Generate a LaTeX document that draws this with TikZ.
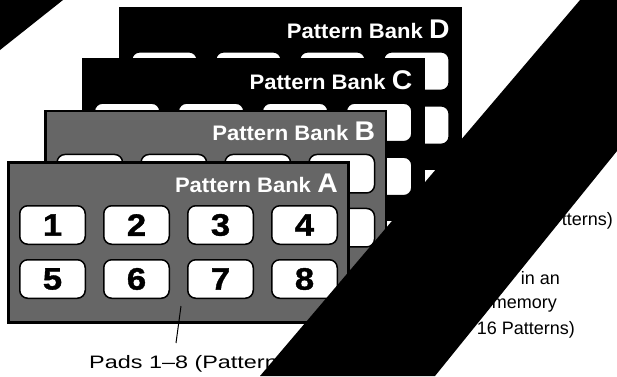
\documentclass[tikz,border=0pt]{standalone}
\usepackage{fontspec}
\setmainfont{Liberation Sans}
\newfontfamily\padfont[FakeStretch=1.12,FakeBold=1.2]{Liberation Sans}
\newfontfamily\titlefont[FakeStretch=1.05]{Liberation Sans}
\newfontfamily\labfont[FakeStretch=1.3]{Liberation Sans}
\newfontfamily\notefont{Liberation Sans}
\definecolor{cardgrey}{RGB}{102,102,102}
\begin{document}
\begin{tikzpicture}[x=1pt,y=-1pt,
  pad/.style={draw=black, fill=white, line width=1.5pt, rounded corners=8pt,
    minimum width=65.5pt, minimum height=38.5pt, inner sep=0pt,
    font=\padfont\bfseries\fontsize{31}{31}\selectfont},
  card/.style={draw=black, line width=2.7pt},
  banktitle/.style={anchor=base east, inner sep=0pt, text=white,
    font=\titlefont\bfseries\fontsize{21}{21}\selectfont},
  lab/.style={inner sep=0pt, font=\labfont\fontsize{18}{18}\selectfont},
  note/.style={inner sep=0pt, anchor=base east, font=\notefont\fontsize{18}{18}\selectfont}]
\useasboundingbox (0,0) rectangle (617,376);
\foreach \k/\L/\col in {3/D/black,2/C/black,1/B/cardgrey} {
  \pgfmathsetmacro\ox{7+37.3*\k}
  \pgfmathsetmacro\oy{161-51.3*\k}
  \draw[card, fill=\col] (\ox+1.35,\oy+1.35) rectangle (\ox+341.65,\oy+161.65);
  \foreach \i in {0,...,3} {
    \node[pad] (p\L\i) at (\ox+45.5+84*\i, \oy+64) {};
    \node[pad] (q\L\i) at (\ox+45.5+84*\i, \oy+118) {};
  }
  \node[banktitle] (t\L) at (\ox+331,\oy+31) {Pattern Bank\hspace{0.3em}{\fontsize{27}{27}\selectfont \L}};
}
% Card A
\draw[card, fill=cardgrey] (8.35,162.35) rectangle (348.65,322.65);
\foreach \i in {0,...,3} {
  \pgfmathtruncatemacro\na{\i+1}
  \pgfmathtruncatemacro\nb{\i+5}
  \node[pad] (pA\i) at (52.5+84*\i, 225) {\na};
  \node[pad] (qA\i) at (52.5+84*\i, 279) {\nb};
}
\node[banktitle] (tA) at (338,192) {Pattern Bank\hspace{0.3em}{\fontsize{27}{27}\selectfont A}};
% labels
\node[note] (r1) at (613,225) {tterns)};
\node[note] (r2) at (560,284) {in an};
\node[note] (r3) at (557,308) {memory};
\node[note] (r4) at (575,334) {16 Patterns)};
\node[lab, anchor=base west] (padslabel) at (89,368) {Pads 1–8 (Patterns)};
\coordinate (ltop) at (181,306);
\coordinate (lbot) at (176,343);
\draw[line width=1pt] (ltop) -- (lbot);
% black masks
\fill[black] (580,0) -- (617,0) -- (617,151) -- (435,376) -- (260,376) -- cycle;
\fill[black] (0,0) -- (63,0) -- (0,50) -- cycle;
\end{tikzpicture}
\end{document}
